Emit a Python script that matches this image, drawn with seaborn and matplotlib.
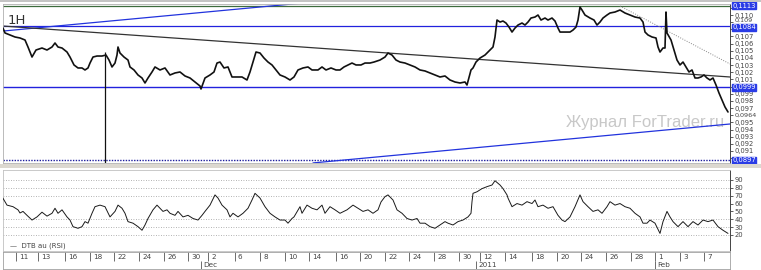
import matplotlib
matplotlib.use('Agg')
import matplotlib.pyplot as plt
import matplotlib.transforms as mtransforms
from matplotlib.patches import Rectangle
import seaborn as sns

# ---------------- data ----------------
price_bar = [3, 5, 15, 20, 25, 28, 32, 36, 42, 47, 52, 55, 58, 62, 67, 70, 74, 78, 82, 85,
             88, 90, 93, 97, 102, 106, 109, 112, 115, 117, 118, 120, 124, 128, 130, 134, 138, 142, 145, 148,
             152, 155, 160, 165, 170, 175, 180, 185, 190, 195, 200, 201, 205, 210, 214, 217, 220, 224, 228, 232,
             237, 242, 247, 250, 253, 256, 260, 264, 268, 272, 276, 280, 285, 290, 294, 298, 303, 308, 312, 318,
             322, 326, 331, 336, 340, 344, 348, 352, 356, 361, 365, 370, 374, 380, 385, 388, 392, 396, 400, 405,
             410, 415, 420, 425, 430, 435, 440, 445, 450, 455, 460, 465, 467, 471, 473, 476, 480, 485, 490, 493,
             495, 497, 500, 503, 506, 509, 512, 515, 518, 522, 525, 528, 531, 535, 538, 541, 545, 548, 552, 555,
             558, 560, 565, 570, 573, 576, 578, 580, 582, 585, 590, 594, 597, 600, 603, 607, 610, 615, 620, 625,
             630, 635, 640, 643, 645, 648, 652, 656, 658, 660, 663, 665, 666, 667, 671, 674, 677, 680, 683, 686,
             689, 692, 695, 698, 701, 704, 707, 710, 713, 716, 719, 722, 725, 728]
price_close = [0.10818, 0.10749, 0.10693, 0.10679, 0.10651, 0.10553, 0.10413, 0.10511, 0.10539, 0.10511,
               0.10553, 0.10609, 0.10553, 0.10539, 0.10483, 0.10413, 0.10302, 0.10260, 0.10260, 0.10232,
               0.10260, 0.10329, 0.10413, 0.10427, 0.10427, 0.10441, 0.10371, 0.10274, 0.10329, 0.10441,
               0.10553, 0.10469, 0.10413, 0.10371, 0.10274, 0.10232, 0.10162, 0.10120, 0.10050, 0.10120,
               0.10204, 0.10274, 0.10232, 0.10260, 0.10162, 0.10190, 0.10204, 0.10148, 0.10120, 0.10064,
               0.10008, 0.09966, 0.10120, 0.10162, 0.10204, 0.10329, 0.10343, 0.10260, 0.10274, 0.10134,
               0.10134, 0.10134, 0.10092, 0.10204, 0.10343, 0.10483, 0.10469, 0.10399, 0.10343, 0.10302,
               0.10232, 0.10162, 0.10134, 0.10092, 0.10134, 0.10232, 0.10260, 0.10274, 0.10232, 0.10232,
               0.10274, 0.10232, 0.10260, 0.10232, 0.10232, 0.10274, 0.10302, 0.10329, 0.10302, 0.10302,
               0.10329, 0.10329, 0.10343, 0.10371, 0.10413, 0.10469, 0.10441, 0.10371, 0.10343, 0.10329,
               0.10302, 0.10274, 0.10232, 0.10218, 0.10190, 0.10162, 0.10134, 0.10148, 0.10092, 0.10064,
               0.10050, 0.10064, 0.10022, 0.10232, 0.10260, 0.10343, 0.10399, 0.10441, 0.10511, 0.10553,
               0.10693, 0.10930, 0.10902, 0.10916, 0.10888, 0.10832, 0.10762, 0.10818, 0.10860, 0.10888,
               0.10860, 0.10902, 0.10958, 0.10972, 0.11000, 0.10930, 0.10958, 0.10930, 0.10958, 0.10916,
               0.10818, 0.10762, 0.10762, 0.10762, 0.10790, 0.10832, 0.10930, 0.11112, 0.11070, 0.11000,
               0.10958, 0.10930, 0.10860, 0.10902, 0.10958, 0.11000, 0.11028, 0.11042, 0.11070, 0.11028,
               0.11000, 0.10972, 0.10958, 0.10902, 0.10762, 0.10721, 0.10693, 0.10679, 0.10553, 0.10483,
               0.10539, 0.10539, 0.11042, 0.10749, 0.10651, 0.10511, 0.10371, 0.10302, 0.10343, 0.10274,
               0.10204, 0.10232, 0.10120, 0.10120, 0.10134, 0.10162, 0.10120, 0.10092, 0.10120, 0.10022,
               0.09910, 0.09813, 0.09715, 0.09645]

rsi_bar = [2, 7, 13, 18, 20, 23, 27, 32, 37, 42, 47, 52, 55, 58, 62, 67, 70, 73, 78, 82,
           85, 88, 92, 95, 100, 105, 110, 115, 118, 122, 125, 128, 133, 138, 142, 145, 148, 153, 157, 160,
           163, 167, 170, 175, 178, 183, 188, 193, 198, 202, 205, 210, 215, 218, 222, 227, 230, 233, 238, 243,
           248, 252, 255, 260, 265, 270, 275, 280, 285, 288, 292, 294, 300, 302, 307, 312, 317, 322, 325, 330,
           335, 340, 347, 353, 358, 363, 368, 373, 378, 381, 385, 388, 393, 397, 402, 407, 412, 417, 420, 425,
           430, 435, 440, 445, 448, 453, 458, 463, 468, 471, 472, 473, 477, 482, 487, 492, 495, 500, 503, 507,
           508, 512, 517, 522, 527, 532, 535, 538, 543, 548, 553, 558, 562, 565, 570, 575, 580, 583, 588, 593,
           598, 602, 607, 610, 615, 620, 625, 630, 635, 640, 643, 647, 650, 655, 660, 663, 667, 670, 673, 678,
           683, 688, 693, 698, 703, 708, 713, 718, 723, 728]
rsi_value = [68.8, 58, 56, 52, 48, 50, 45, 39, 43, 49, 44, 47.6, 54, 47.6, 52, 43, 39, 30.6, 28.5, 30.6,
             37, 35, 47.6, 56, 58, 56, 43, 50, 58, 54, 47.6, 37, 35, 30.6, 26, 32.7, 41, 52, 58, 54,
             50, 52, 47.6, 45, 50, 43, 45, 41, 39, 45, 50, 58, 71, 67, 58, 52, 43, 47.6, 43, 47.6,
             54, 64.5, 73, 67, 56, 47.6, 43, 39, 39, 35, 41, 43, 56, 47.6, 58, 54, 52, 58, 47.6, 56,
             52, 47.6, 52, 58, 54, 50, 52, 47.6, 52, 62, 68.8, 71, 64.5, 52, 47.6, 41, 39, 41, 35, 35,
             30.6, 28.5, 32.7, 37, 35, 32.7, 37, 39, 43, 47.6, 62.4, 73, 75, 79, 81.5, 83.6, 89, 83.6, 79, 71,
             67, 56, 60, 58, 62.4, 60, 64.5, 56, 58, 54, 56, 45, 39, 37, 43, 56, 71, 62.4, 56, 50,
             52, 47.6, 56, 62.4, 58, 60, 56, 54, 47.6, 43, 35, 35, 39, 35, 22, 37, 50, 43, 37, 30.6,
             37, 30.6, 37, 32.7, 39, 37, 39, 30.6, 26, 22]

price_tick_values = [0.111, 0.110, 0.109, 0.108, 0.107, 0.106, 0.105, 0.104, 0.103, 0.102, 0.101,
                     0.100, 0.099, 0.098, 0.097, 0.096, 0.095, 0.094, 0.093, 0.092, 0.091, 0.090]
price_tick_labels = ['', '0,110', '', '', '0,107', '0,106', '0,105', '0,104', '0,103', '0,102', '0,101',
                     '', '0,099', '0,098', '0,097', '', '0,095', '0,094', '0,093', '0,092', '0,091', '']
label_109 = '0,109'
level_values = [0.1113, 0.1084, 0.0999, 0.0897]
level_labels = ['0,1113', '0,1084', '0,0999', '0,0897']
last_price_label = '0,0964'
rsi_ticks = [20, 30, 40, 50, 60, 70, 80, 90]
rsi_grid = [20, 30, 40, 70, 80, 90]
time_tick_bars = [16, 38, 65, 90, 114, 139, 164, 188, 208, 235, 260, 285, 309, 336, 360,
                  385, 409, 434, 459, 480, 505, 532, 557, 581, 606, 631, 655, 680, 704]
time_tick_labels = ['11', '13', '16', '18', '22', '24', '26', '30', '2', '6', '8', '10', '14', '16', '20',
                    '22', '24', '28', '30', '12', '14', '18', '20', '24', '26', '28', '1', '3', '7']
period_bars = [201, 476, 655]
period_labels = ['Dec', '2011', 'Feb']
trend_up_bar = [3, 335]
trend_up_price = [0.10776, 0.11210]
trend_low_bar = [313, 730]
trend_low_price = [0.08933, 0.09477]
trend_down_bar = [3, 730]
trend_down_price = [0.10846, 0.10134]
trend_dot_bar = [620, 730]
trend_dot_price = [0.11126, 0.10316]
vline_bar = 105
vline_top = 0.10483

# ---------------- figure ----------------
sns.set_style('white')
plt.rcParams['font.family'] = ['DejaVu Sans']
W, H = 761, 270
fig = plt.figure(figsize=(W / 100, H / 100), dpi=100)
fig.patch.set_facecolor('white')


def px_axes(l, t, r, b):
    return fig.add_axes([l / W, 1 - b / H, (r - l) / W, (b - t) / H])


# frame strips
fig.patches.append(Rectangle((0, 1 - 2 / H), 1, 2 / H, transform=fig.transFigure,
                             facecolor='#c4c4c4', edgecolor='none', zorder=0))
fig.patches.append(Rectangle((0, 1 - 168 / H), 1, 4 / H, transform=fig.transFigure,
                             facecolor='#dcd8d0', edgecolor='none', zorder=0))

XMIN, XMAX = 3, 730
tick_color = '#444444'
fs = 4.9

# ---------------- price panel ----------------
ax = px_axes(3, 4, 730, 163)
ax.set_xlim(XMIN, XMAX)
ax.set_ylim(0.08932, 0.11154)

# levels
ax.axhline(level_values[0], color='#3d6b3d', lw=0.9, zorder=2)
ax.axhline(level_values[1], color='#2222dd', lw=0.9, zorder=2)
ax.axhline(level_values[2], color='#2222dd', lw=1.0, zorder=2)
ax.axhline(level_values[3], color='#1c1c9c', lw=1.0, ls=(0, (1, 1)), zorder=2)

# trend lines
ax.plot(trend_up_bar, trend_up_price, color='#2233dd', lw=0.9, zorder=2)
ax.plot(trend_low_bar, trend_low_price, color='#2233dd', lw=0.9, zorder=2)
ax.plot(trend_down_bar, trend_down_price, color='#333333', lw=0.9, zorder=2)
ax.plot(trend_dot_bar, trend_dot_price, color='#888888', lw=0.7, ls=(0, (1, 1.5)), zorder=2)
ax.vlines(vline_bar, 0.08932, vline_top, color='#111111', lw=0.9, zorder=2)

# watermark
ax.text(566, 0.0950, 'Журнал ForTrader.ru', fontsize=12, color='#c8c8c8',
        family=['Liberation Sans', 'DejaVu Sans'], va='center', ha='left', zorder=1)

sns.lineplot(x=price_bar, y=price_close, ax=ax, color='#111111', lw=1.2,
             estimator=None, sort=False, zorder=4)

ax.text(8, 0.1093, '1H', fontsize=9.5, color='#333333', va='center', ha='left')

ax.yaxis.tick_right()
ax.set_yticks(price_tick_values)
ax.set_yticklabels(price_tick_labels)
ax.tick_params(axis='y', labelsize=fs, colors=tick_color, length=2.5, width=0.6, pad=1)
ax.set_xticks([])
ax.set_xlabel('')
ax.set_ylabel('')
for s in ['left', 'top', 'bottom']:
    ax.spines[s].set_color('#b0b0b0')
    ax.spines[s].set_linewidth(0.6)
ax.spines['right'].set_color('#444444')
ax.spines['right'].set_linewidth(0.7)

trans = mtransforms.blended_transform_factory(ax.transAxes, ax.transData)
# level boxes (slightly offset where neighbouring tick labels crowd them)
box_y = [level_values[0], level_values[1] - 0.00008, level_values[2], level_values[3]]
for v, lab in zip(box_y, level_labels):
    ax.text(1.003, v, lab, transform=trans, fontsize=fs, color='white', va='center', ha='left',
            bbox=dict(facecolor='#2a3ce6', edgecolor='#2a3ce6', pad=0.35), clip_on=False, zorder=6)
ax.text(1.006, 0.10920, label_109, transform=trans, fontsize=4.6, color=tick_color,
        va='center', ha='left', clip_on=False, zorder=6)
ax.text(1.006, 0.09600, last_price_label, transform=trans, fontsize=4.6, color=tick_color,
        va='center', ha='left', clip_on=False, zorder=6)

# ---------------- RSI panel ----------------
ax2 = px_axes(3, 170, 730, 251)
ax2.set_xlim(XMIN, XMAX)
ax2.set_ylim(-0.4, 102.7)
for g in rsi_grid:
    ax2.axhline(g, color='#9a9a9a', lw=0.6, ls=(0, (1, 2)), zorder=1)
sns.lineplot(x=rsi_bar, y=rsi_value, ax=ax2, color='#1a1a1a', lw=0.7,
             estimator=None, sort=False, zorder=3)
ax2.yaxis.tick_right()
ax2.set_yticks(rsi_ticks)
ax2.set_yticklabels([str(v) for v in rsi_ticks])
ax2.tick_params(axis='y', labelsize=fs, colors=tick_color, length=2.5, width=0.6, pad=1)
ax2.set_xticks([])
ax2.set_xlabel('')
ax2.set_ylabel('')
for s in ['left', 'top', 'bottom']:
    ax2.spines[s].set_color('#c0c0c0')
    ax2.spines[s].set_linewidth(0.6)
ax2.spines['right'].set_color('#444444')
ax2.spines['right'].set_linewidth(0.7)
ax2.text(10, 6, '—  DTB au (RSI)', fontsize=5, color='#444444', va='center', ha='left')

# ---------------- time axis ----------------
ax3 = px_axes(3, 252, 730, 269)
ax3.set_xlim(XMIN, XMAX)
ax3.set_ylim(0, 1)
ax3.set_xticks([])
ax3.set_yticks([])
for s in ax3.spines.values():
    s.set_color('#a0a0a0')
    s.set_linewidth(0.6)
ax3.vlines(time_tick_bars, 0.5, 0.98, color='#555555', lw=0.6)
for b, lab in zip(time_tick_bars, time_tick_labels):
    ax3.text(b + 3, 0.72, lab, fontsize=5.2, color=tick_color, va='center', ha='left')
ax3.vlines(period_bars, 0.02, 0.45, color='#555555', lw=0.6)
for b, lab in zip(period_bars, period_labels):
    ax3.text(b + 2, 0.24, lab, fontsize=5.2, color=tick_color, va='center', ha='left')

fig.savefig('out.png', dpi=100)
